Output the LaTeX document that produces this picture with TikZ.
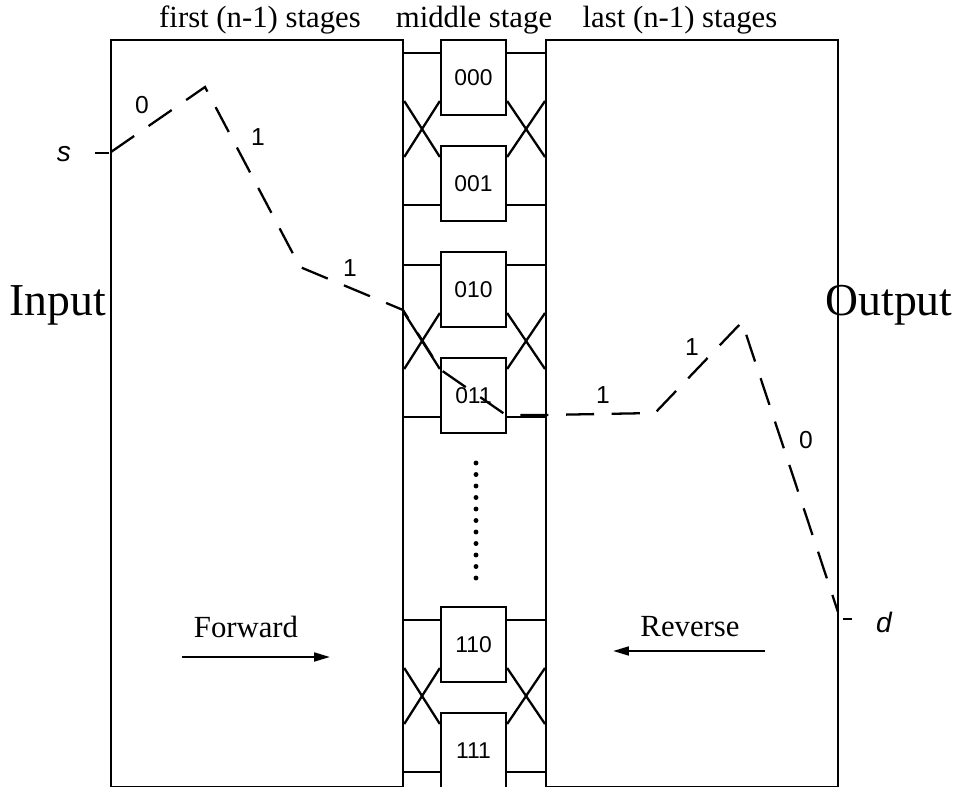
\documentclass[tikz,border=0pt]{standalone}
\usepackage{fontspec}
\setmainfont{Liberation Serif}
\setsansfont{Liberation Sans}
\usetikzlibrary{arrows.meta,calc}
\tikzset{
  wire/.style={line width=1.3pt},
  stagebox/.style={draw, line width=1.3pt, minimum width=5.84cm,
    minimum height=14.94cm, anchor=north west, inner sep=0pt},
  switch/.style={draw, line width=1.3pt, minimum width=1.3cm,
    minimum height=1.5cm, anchor=north, inner sep=0pt,
    font=\sffamily\fontsize{13}{13}\selectfont},
  route/.style={line width=1.3pt, dash pattern=on 16pt off 10pt},
  bit/.style={font=\sffamily\fontsize{14}{14}\selectfont},
  head/.style={font=\fontsize{17.5}{18}\selectfont, anchor=base},
  pin/.style={line width=1.3pt, -{Triangle[length=9pt,width=5pt]}},
}

\begin{document}
\begin{tikzpicture}[x=0.02cm, y=-0.02cm]
  \useasboundingbox (0,0) rectangle (957,787);
  % headers
  \node[head] (hfirst) at (260,28) {first (n-1) stages};
  \node[head] (hmid)   at (474,28) {middle stage};
  \node[head] (hlast)  at (680,28) {last (n-1) stages};
  % the two halves of the network
  \node[stagebox] (first) at (110,39) {};
  \node[stagebox] (last)  at (545,39) {};
  \node[font=\fontsize{26}{26}\selectfont] (in)  at (58,305)  {Input};
  \node[font=\fontsize{26}{26}\selectfont] (out) at (889,305) {Output};
  % middle stage: pairs of switches with straight and crossed links
  \foreach \a/\b/\t in {000/001/39, 010/011/251, 110/111/606}{
    \node[switch] (s\a) at (473.5,\t) {\a};
    \node[switch] (s\b) at (473.5,{\t+106}) {\b};
    \coordinate (ua) at (0,{\t+14});
    \coordinate (ub) at (0,{\t+62});
    \coordinate (lb) at (0,{\t+118});
    \coordinate (la) at (0,{\t+166});
    \draw[wire] (first.east |- ua) -- (s\a.west |- ua);
    \draw[wire] (first.east |- la) -- (s\b.west |- la);
    \draw[wire] (first.east |- ub) -- (s\b.west |- lb);
    \draw[wire] (first.east |- lb) -- (s\a.west |- ub);
    \draw[wire] (s\a.east |- ua) -- (last.west |- ua);
    \draw[wire] (s\b.east |- la) -- (last.west |- la);
    \draw[wire] (s\a.east |- ub) -- (last.west |- lb);
    \draw[wire] (s\b.east |- lb) -- (last.west |- ub);
  }
  % dots between the pairs
  \foreach \k in {0,...,10}
    \fill (476,{463+11.5*\k}) circle (1.4pt);
  % source and destination
  \node[font=\sffamily\itshape\fontsize{16}{16}\selectfont] (s) at (64,154) {s};
  \node[font=\sffamily\itshape\fontsize{16}{16}\selectfont] (d) at (884,622) {d};
  \draw[wire] ($(s.east)+(18,-1)$) -- ($(s.east)+(32,-1)$);
  \draw[wire] ($(d.west)+(-27,-3)$) -- ($(d.west)+(-18,-3)$);
  % routed path
  \coordinate (p0) at (111,152);
  \coordinate (p1) at (205,87);
  \coordinate (p2) at (300,267);
  \coordinate (p3) at (403,310);
  \coordinate (p4) at (441,370);
  \coordinate (p5) at (506,415);
  \coordinate (p6) at (655,413);
  \coordinate (p7) at (742,322);
  \coordinate (p8) at (838,612);
  \draw[route] (p0) -- (p1) -- (p2) -- (p3) -- (p4) -- (p5)
    -- (last.west |- p5) -- (p6) -- (p7) -- (p8);
  \node[bit] (b1) at (142,105) {0};
  \node[bit] (b2) at (258,137) {1};
  \node[bit] (b3) at (350,268) {1};
  \node[bit] (b4) at (603,395) {1};
  \node[bit] (b5) at (692,347) {1};
  \node[bit] (b6) at (806,440) {0};
  % direction of travel
  \node[head, anchor=center] (fw) at (246,627) {Forward};
  \node[head, anchor=center] (rv) at (690,627) {Reverse};
  \coordinate (fa) at (182,657);
  \coordinate (fb) at (330,657);
  \coordinate (ra) at (765,651);
  \coordinate (rb) at (613,651);
  \draw[pin] (fa) -- (fb);
  \draw[pin] (ra) -- (rb);
\end{tikzpicture}
\end{document}
